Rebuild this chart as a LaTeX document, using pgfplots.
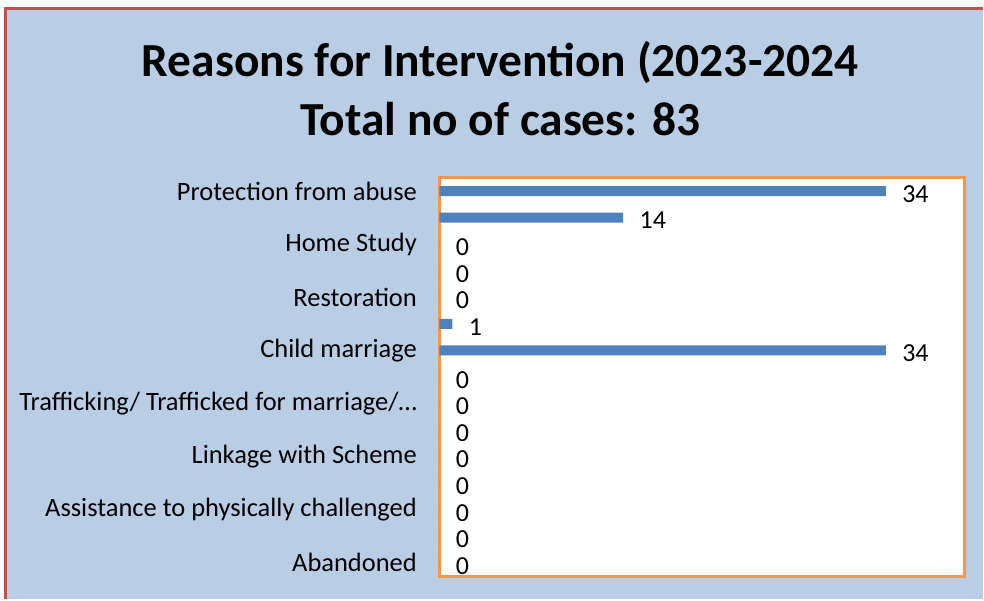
\documentclass[border=0pt]{standalone}
\usepackage{pgfplots}
\pgfplotsset{compat=1.18}
\usepackage{fontspec}
\setmainfont{Carlito}
\definecolor{bgblue}{HTML}{B9CDE5}
\definecolor{barblue}{HTML}{4F81BD}
\definecolor{borderorange}{HTML}{F79646}
\definecolor{borderred}{HTML}{C0504D}
\begin{document}
\begin{tikzpicture}[x=1pt,y=1pt]
\fill[white] (0,0) rectangle (984,600);
\fill[bgblue] (7,0) rectangle (984,591);
\draw[borderred,line width=3pt] (5.5,0) -- (5.5,591.5) -- (984,591.5);
\node[font=\fontsize{47.5}{59}\selectfont\bfseries,align=center] at (501,511) {Reasons for Intervention (2023-2024\\Total no of cases: 83};
\begin{axis}[
  at={(440pt,23pt)}, anchor=south west,
  scale only axis, width=526pt, height=399pt,
  xmin=0, xmax=40, ymin=0.5, ymax=15.5,
  y dir=reverse,
  xbar, bar width=10pt,
  axis background/.style={fill=white},
  axis line style={draw=borderorange,line width=3pt},
  xtick=\empty,
  ytick={1,3,5,7,9,11,13,15},
  yticklabels={Protection from abuse,Home Study,Restoration,Child marriage,Trafficking/ Trafficked for marriage/\dots,Linkage with Scheme,Assistance to physically challenged,Abandoned},
  major tick length=0pt,
  yticklabel style={font=\fontsize{26.5}{30}\selectfont, xshift=-19pt},
  nodes near coords,
  every node near coord/.append style={font=\fontsize{26}{30}\selectfont, anchor=west, xshift=13pt, yshift=-3pt},
  /pgf/number format/assume math mode=true,
]
\addplot[fill=barblue,draw=none] coordinates {
(34,1) (14,2) (0,3) (0,4) (0,5) (1,6) (34,7) (0,8) (0,9) (0,10) (0,11) (0,12) (0,13) (0,14) (0,15)
};
\end{axis}
\end{tikzpicture}
\end{document}
